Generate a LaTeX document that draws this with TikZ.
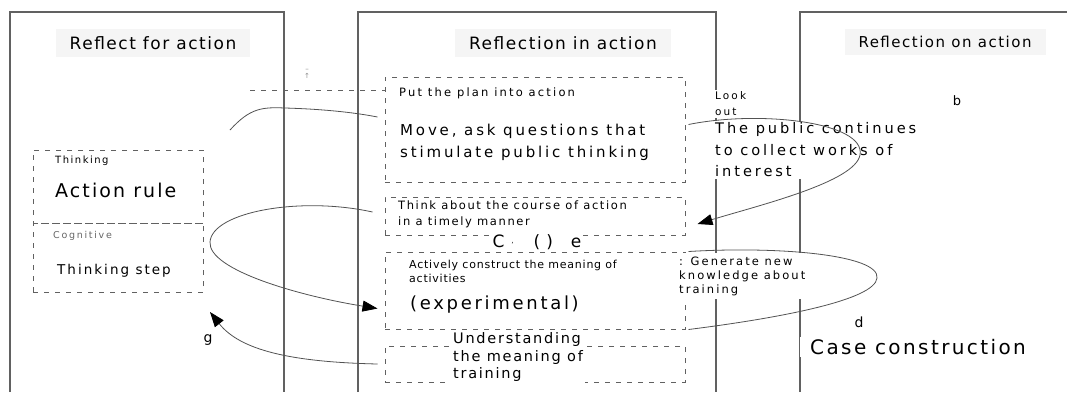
\documentclass[tikz,border=0pt]{standalone}
\usepackage{fontspec}
\setmainfont{DejaVu Sans}
\usetikzlibrary{arrows.meta}
\newcommand{\lsfont}[3]{\fontsize{#1}{#2}\selectfont\addfontfeatures{LetterSpace=#3}}

\begin{document}
\begin{tikzpicture}[
  x=1pt, y=-1pt,
  panel/.style={draw=black!62, line width=1.1pt},
  dbox/.style={draw=black!62, dash pattern=on 5pt off 6pt, line width=1pt, inner sep=0pt},
  ttl/.style={fill=black!4, inner xsep=14pt, inner ysep=7pt, text=black},
  lbl/.style={fill=white, inner sep=2pt, align=left, text=black},
  conn/.style={draw=black!68, line width=0.8pt},
  arr/.style={conn, -{Triangle[length=15pt,width=11pt,color=black]}}
]
\useasboundingbox (0,0) rectangle (1067,392);
% panels
\draw[panel] (10,392) -- (10,12) -- (284,12) -- (284,392);
\draw[panel] (358,392) -- (358,12) -- (716,12) -- (716,392);
\draw[panel] (800,392) -- (800,12) -- (1067,12);

% dashed boxes
\node[dbox, minimum width=300, minimum height=105] (plan) at (535,129.5) {};
\node[dbox, minimum width=300, minimum height=38] (think) at (535,216) {};
\node[dbox, minimum width=300, minimum height=77] (construct) at (535,290.5) {};
\node[dbox, minimum width=300, minimum height=36] (meaning) at (535,364) {};
\node[dbox, minimum width=170, minimum height=73] (rulebox) at (118,186.5) {};
\node[dbox, minimum width=170, minimum height=69] (stepbox) at (118,257.5) {};
\coordinate (lead) at (250,90);
\draw[dbox] (lead) -- (lead -| plan.west);

% titles
\node[ttl, font=\lsfont{17}{20}{9}] (t1) at (153,43) {Reflect for action};
\node[ttl, font=\lsfont{17}{20}{9}] (t2) at (563,43) {Reflection in action};
\node[ttl, font=\lsfont{15}{18}{10}] (t3) at (945,42) {Reflection on action};

% middle column
\node[lbl, anchor=west, font=\lsfont{11.5}{14}{19}] (plantxt) at (397,93) {Put the plan into action};
\node[lbl, anchor=west, font=\lsfont{15}{22}{19}] (move) at (398,142) {Move, ask questions that\\stimulate public thinking};
\node[lbl, anchor=west, font=\lsfont{11.5}{16}{14}] (course) at (396,214) {Think about the course of action\\in a timely manner};
\node[lbl, font=\lsfont{17}{18}{0}] (cue) at (537,242) {C\hspace{7pt}{\scriptsize'}\hspace{20pt}(\hspace{6pt})\hspace{18pt}e};
\node[lbl, anchor=west, font=\lsfont{11}{14}{7}] (active) at (407,271) {Actively construct the meaning of\\activities};
\node[lbl, anchor=west, font=\lsfont{18}{20}{15}] (exp) at (408,305) {(experimental)};
\node[lbl, anchor=west, font=\lsfont{14.5}{17.5}{12}] (under) at (451,357) {Understanding\\the meaning of\\training};

% left column
\node[lbl, anchor=west, font=\lsfont{10}{12}{15}] (thinking) at (53,161) {Thinking};
\node[lbl, anchor=west, font=\lsfont{19}{22}{11}] (rule) at (53,190) {Action rule};
\node[lbl, anchor=west, font=\lsfont{9.5}{12}{18}, text=black!60] (cog) at (51,236) {Cognitive};
\node[lbl, anchor=west, font=\lsfont{13.5}{16}{15}] (step) at (55,271) {Thinking step};
\node[lbl, font=\lsfont{14}{16}{0}] (g) at (208,340) {g};
\node[font=\fontsize{7}{7}\selectfont, text=black!45, align=center, inner sep=1pt] (mark) at (307,74) {–\\↑};

% right column
\node[lbl, anchor=west, font=\lsfont{10.5}{16}{20}] (look) at (713,104) {Look\\out};
\node[lbl, anchor=west, font=\lsfont{14.6}{21.5}{20}] (public) at (713,150) {The public continues\\to collect works of\\interest};
\node[lbl, anchor=west, font=\lsfont{11.5}{14}{18}, inner sep=4pt] (gen) at (675,276) {: Generate new\\knowledge about\\training};
\node[lbl, font=\lsfont{13}{15}{0}] (b) at (957,101) {b};
\node[lbl, font=\lsfont{14}{16}{0}] (d) at (859,322) {d};
\node[lbl, anchor=west, inner xsep=10pt, font=\lsfont{20}{24}{12}] (case) at (800,347) {Case construction};

% connectors
\coordinate (c1) at (230,130);
\draw[conn] (c1) .. controls (250,108) and (262,107) .. (285,108) .. controls (320,109) and (352,112) .. ([shift={(-7,-12.5)}]plan.west);
\draw[arr] ([shift={(-12,-4)}]think.west) .. controls (300,196) and (212,212) .. (210,242) .. controls (208,270) and (300,296) .. ([shift={(-7,18)}]construct.west);
\coordinate (gtip) at (210,312);
\draw[arr] ([xshift=-7]meaning.west) .. controls (290,362) and (240,350) .. (gtip);
\draw[arr] ([shift={(3,-5)}]plan.east) .. controls (760,110) and (866,122) .. (860,155) .. controls (855,182) and (760,205) .. ([shift={(12,8)}]think.east);
\draw[conn] ([xshift=3]construct.north east) .. controls (780,246) and (880,255) .. (877,278) .. controls (875,300) and (780,318) .. ([xshift=3]construct.south east);
\end{tikzpicture}
\end{document}
